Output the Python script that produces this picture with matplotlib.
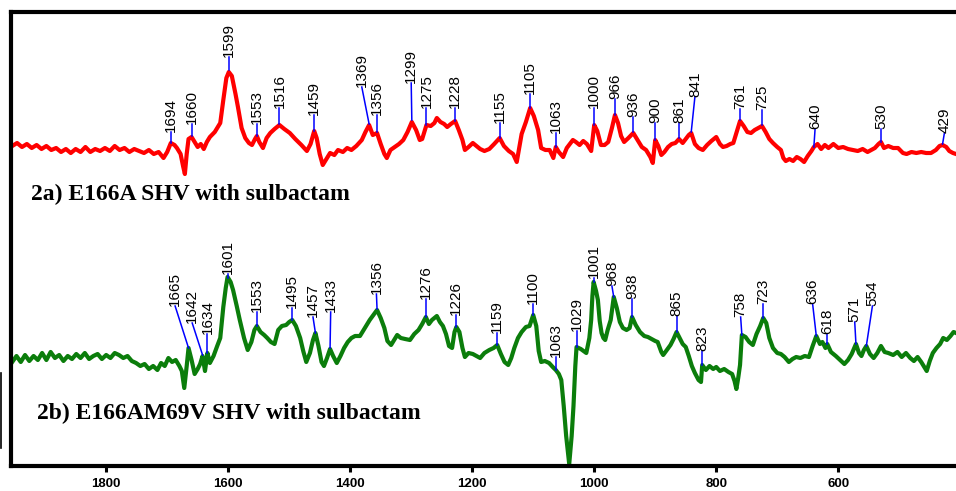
"""
Raman difference spectra: E166A SHV and E166AM69V SHV with sulbactam
"""

import matplotlib
matplotlib.use('Agg')
import matplotlib.pyplot as plt
from matplotlib.lines import Line2D

# Upper trace (2a): (wavenumber cm-1, relative intensity)
red_points = [
    (1954, 320), (1946, 323), (1938, 319), (1930, 322), (1922, 318), (1914, 321),
    (1906, 317), (1898, 320), (1890, 316), (1882, 318), (1874, 314), (1866, 317),
    (1858, 313), (1850, 317), (1842, 314), (1834, 319), (1826, 314), (1818, 317),
    (1810, 315), (1802, 318), (1794, 315), (1786, 320), (1778, 316), (1770, 318),
    (1762, 314), (1754, 317), (1746, 315), (1738, 313), (1730, 316), (1722, 312),
    (1714, 314), (1706, 308), (1700, 314), (1694, 323), (1688, 321), (1684, 318),
    (1678, 312), (1674, 300), (1671, 292), (1668, 312), (1665, 327), (1660, 329),
    (1655, 324), (1650, 319), (1645, 322), (1640, 317), (1635, 324), (1630, 329),
    (1622, 334), (1613, 343), (1608, 366), (1603, 388), (1599, 394), (1594, 390),
    (1588, 372), (1584, 359), (1578, 338), (1572, 328), (1566, 323), (1561, 321),
    (1556, 327), (1553, 330), (1549, 324), (1543, 318), (1537, 328), (1531, 333),
    (1524, 337), (1516, 341), (1508, 337), (1499, 333), (1490, 327), (1480, 321),
    (1471, 315), (1465, 322), (1459, 335), (1455, 328), (1450, 312), (1445, 301),
    (1440, 306), (1433, 313), (1426, 311), (1420, 316), (1412, 314), (1405, 318),
    (1398, 316), (1390, 320), (1381, 326), (1375, 334), (1369, 341), (1363, 331),
    (1356, 333), (1350, 322), (1344, 312), (1340, 308), (1334, 316), (1327, 319),
    (1320, 322), (1313, 326), (1306, 334), (1299, 344), (1292, 336), (1286, 326),
    (1282, 327), (1275, 341), (1268, 340), (1262, 343), (1258, 348), (1252, 344),
    (1246, 342), (1241, 339), (1235, 342), (1228, 345), (1222, 336), (1216, 326),
    (1212, 316), (1206, 319), (1199, 323), (1193, 320), (1187, 317), (1180, 315),
    (1172, 317), (1164, 322), (1155, 328), (1148, 320), (1140, 315), (1133, 312),
    (1127, 304), (1123, 318), (1119, 332), (1112, 344), (1105, 358), (1099, 350),
    (1092, 336), (1087, 318), (1080, 316), (1073, 316), (1067, 308), (1063, 319),
    (1058, 314), (1051, 309), (1045, 318), (1040, 322), (1035, 326), (1030, 324),
    (1024, 321), (1018, 325), (1012, 322), (1005, 315), (1000, 341), (995, 335),
    (989, 321), (983, 321), (977, 324), (971, 338), (966, 351), (961, 343),
    (956, 330), (951, 324), (944, 328), (936, 333), (930, 327), (922, 319),
    (915, 316), (908, 309), (904, 303), (900, 326), (895, 320), (890, 311),
    (885, 314), (879, 319), (873, 322), (867, 323), (861, 327), (855, 323),
    (850, 327), (845, 331), (841, 333), (835, 322), (829, 318), (822, 316),
    (815, 321), (808, 325), (800, 329), (794, 322), (789, 319), (783, 320),
    (777, 322), (772, 323), (766, 335), (761, 345), (755, 340), (749, 334),
    (743, 333), (737, 336), (731, 338), (725, 340), (719, 334), (713, 327),
    (707, 323), (700, 319), (694, 316), (690, 308), (686, 305), (680, 307),
    (674, 305), (668, 309), (662, 307), (656, 304), (650, 310), (644, 315),
    (640, 319), (634, 322), (628, 317), (622, 321), (616, 318), (608, 322),
    (600, 318), (592, 319), (584, 317), (576, 316), (568, 315), (560, 317),
    (552, 314), (546, 316), (540, 318), (534, 322), (530, 324), (525, 318),
    (518, 320), (510, 318), (502, 318), (494, 313), (488, 312), (480, 314),
    (472, 313), (464, 314), (456, 313), (448, 313), (440, 316), (434, 320),
    (429, 321), (423, 319), (418, 315), (412, 313), (407, 312),
]

# Lower trace (2b)
green_points = [
    (1954, 104), (1947, 110), (1940, 104), (1933, 111), (1926, 105), (1919, 110),
    (1912, 106), (1905, 113), (1898, 106), (1891, 114), (1884, 108), (1877, 111),
    (1870, 105), (1863, 110), (1856, 107), (1849, 112), (1842, 108), (1835, 113),
    (1828, 107), (1821, 110), (1814, 112), (1807, 107), (1800, 111), (1793, 108),
    (1786, 113), (1779, 111), (1772, 108), (1765, 110), (1758, 105), (1751, 103),
    (1744, 100), (1737, 102), (1730, 97), (1723, 100), (1716, 96), (1710, 103),
    (1704, 100), (1698, 108), (1692, 104), (1686, 106), (1680, 100), (1676, 95),
    (1672, 78), (1668, 100), (1665, 118), (1660, 106), (1655, 92), (1650, 97),
    (1646, 102), (1642, 110), (1638, 95), (1634, 113), (1630, 103), (1624, 110),
    (1618, 120), (1613, 128), (1608, 159), (1604, 178), (1601, 189), (1596, 184),
    (1592, 176), (1586, 160), (1581, 146), (1574, 128), (1568, 116), (1562, 124),
    (1557, 136), (1553, 140), (1547, 134), (1541, 131), (1536, 128), (1530, 124),
    (1524, 122), (1518, 136), (1512, 140), (1505, 141), (1500, 144), (1495, 146),
    (1489, 140), (1482, 128), (1477, 115), (1472, 104), (1466, 113), (1461, 126),
    (1457, 133), (1452, 120), (1447, 104), (1443, 100), (1438, 108), (1433, 117),
    (1428, 110), (1422, 103), (1416, 110), (1410, 118), (1404, 124), (1398, 128),
    (1392, 130), (1384, 130), (1376, 138), (1368, 146), (1362, 151), (1356, 156),
    (1350, 148), (1344, 138), (1339, 125), (1333, 121), (1328, 126), (1323, 131),
    (1317, 128), (1310, 127), (1302, 126), (1295, 132), (1288, 136), (1282, 142),
    (1276, 149), (1271, 142), (1266, 146), (1262, 148), (1258, 150), (1253, 144),
    (1248, 140), (1243, 132), (1238, 120), (1233, 118), (1229, 134), (1226, 139),
    (1221, 134), (1216, 118), (1212, 109), (1206, 113), (1199, 112), (1193, 110),
    (1187, 108), (1180, 113), (1172, 116), (1165, 118), (1159, 121), (1153, 112),
    (1147, 104), (1141, 101), (1136, 108), (1131, 118), (1125, 128), (1119, 134),
    (1112, 139), (1106, 140), (1100, 151), (1095, 140), (1091, 115), (1087, 104),
    (1081, 105), (1074, 103), (1068, 99), (1063, 96), (1058, 92), (1054, 86),
    (1050, 60), (1046, 30), (1041, 2), (1037, 30), (1034, 60), (1031, 100),
    (1029, 119), (1022, 117), (1013, 113), (1008, 128), (1005, 146), (1003, 170),
    (1001, 184), (997, 175), (994, 166), (991, 145), (988, 133), (985, 128),
    (982, 126), (978, 136), (973, 146), (970, 160), (968, 169), (963, 158),
    (958, 144), (953, 138), (947, 136), (942, 138), (938, 149), (932, 141),
    (925, 134), (918, 130), (912, 129), (906, 127), (900, 125), (896, 124),
    (890, 114), (887, 111), (881, 116), (875, 121), (870, 127), (865, 134),
    (860, 128), (855, 122), (850, 119), (845, 110), (840, 100), (835, 93),
    (829, 86), (825, 84), (823, 101), (817, 96), (811, 100), (805, 97),
    (800, 99), (794, 95), (787, 97), (780, 94), (774, 92), (770, 85),
    (767, 77), (764, 88), (761, 101), (758, 131), (752, 129), (746, 124),
    (740, 121), (734, 132), (728, 140), (723, 148), (718, 143), (713, 128),
    (707, 118), (700, 113), (694, 112), (688, 109), (681, 104), (675, 107),
    (669, 109), (662, 108), (655, 110), (648, 109), (642, 120), (636, 130),
    (630, 122), (626, 124), (621, 118), (618, 122), (612, 114), (604, 110),
    (597, 106), (590, 102), (584, 106), (578, 112), (571, 122), (566, 113),
    (562, 110), (558, 116), (554, 120), (548, 112), (542, 108), (536, 113),
    (530, 120), (524, 114), (518, 113), (510, 111), (503, 114), (496, 109),
    (489, 113), (482, 108), (476, 105), (470, 109), (464, 104), (458, 98),
    (455, 95), (450, 105), (445, 113), (439, 118), (433, 122), (428, 128),
    (422, 126), (416, 130), (411, 134), (407, 133),
]

# Peak labels: (label, peak x, peak y, label x, label y)
red_peaks = [
    (1694, 1694, 323, 1694, 334), (1660, 1660, 330, 1660, 342),
    (1599, 1599, 396, 1599, 409), (1553, 1553, 330, 1553, 342),
    (1516, 1516, 342, 1516, 358), (1459, 1459, 335, 1459, 351),
    (1369, 1369, 342, 1381, 379), (1356, 1356, 334, 1356, 351),
    (1299, 1299, 346, 1300, 383), (1275, 1275, 341, 1275, 358),
    (1228, 1228, 345, 1228, 358), (1155, 1155, 328, 1155, 343),
    (1105, 1105, 358, 1105, 372), (1063, 1063, 319, 1063, 333),
    (1000, 1000, 341, 1000, 358), (966, 966, 351, 966, 367),
    (936, 936, 334, 936, 349), (900, 900, 326, 900, 343),
    (861, 861, 328, 861, 343), (841, 841, 334, 835, 369),
    (761, 761, 346, 761, 357), (725, 725, 341, 725, 356),
    (640, 640, 319, 638, 337), (530, 530, 324, 530, 337),
    (429, 429, 322, 426, 333),
]
green_peaks = [
    (1665, 1665, 118, 1687, 160), (1642, 1642, 111, 1659, 143),
    (1634, 1634, 113, 1634, 132), (1601, 1601, 188, 1601, 192),
    (1553, 1553, 140, 1553, 154), (1495, 1495, 146, 1495, 158),
    (1457, 1457, 133, 1461, 149), (1433, 1433, 118, 1432, 154),
    (1356, 1356, 157, 1357, 172), (1276, 1276, 149, 1276, 167),
    (1226, 1226, 139, 1226, 151), (1159, 1159, 121, 1159, 133),
    (1100, 1100, 151, 1100, 162), (1063, 1063, 96, 1063, 109),
    (1029, 1029, 119, 1029, 135), (1001, 1001, 184, 1001, 188),
    (968, 968, 169, 971, 180), (938, 938, 149, 938, 167),
    (865, 865, 134, 865, 150), (823, 823, 101, 823, 115),
    (758, 758, 131, 760, 149), (723, 723, 148, 723, 162),
    (636, 636, 130, 642, 162), (618, 618, 122, 618, 132),
    (571, 571, 122, 573, 144), (554, 554, 120, 544, 160),
]

xticks = [1800, 1600, 1400, 1200, 1000, 800, 600]

fig = plt.figure(figsize=(9.56, 4.91), dpi=100)
ax = fig.add_axes([11 / 956, 25 / 491, 945 / 956, 454 / 491])

red_wn, red_int = zip(*red_points)
green_wn, green_int = zip(*green_points)
ax.plot(red_wn, red_int, color='#ff0000', linewidth=3, solid_joinstyle='round')
ax.plot(green_wn, green_int, color='#0b7d0b', linewidth=3, solid_joinstyle='round')

for peaks in (red_peaks, green_peaks):
    for lab, xp, yp, xt, yt in peaks:
        ax.plot([xp, xt], [yp, yt], color='#0000ff', linewidth=1.1)
        ax.text(xt, yt, str(lab), rotation=90, ha='center', va='bottom',
                fontsize=11, family='Liberation Sans')

ax.text(1923, 266, '2a) E166A SHV with sulbactam', fontsize=17, fontweight='bold',
        family='Liberation Serif', va='baseline')
ax.text(1913, 47, '2b) E166AM69V SHV with sulbactam', fontsize=17, fontweight='bold',
        family='Liberation Serif', va='baseline')

ax.set_xlim(1956, 407)
ax.set_ylim(0, 454)
ax.set_xticks(xticks)
ax.set_xticklabels([str(t) for t in xticks], fontweight='bold', fontsize=9.5,
                   family='Liberation Sans')
ax.set_yticks([])
ax.tick_params(axis='x', direction='out', length=4.5, width=2.2, pad=4)
ax.spines['right'].set_visible(False)
for side in ('left', 'top', 'bottom'):
    ax.spines[side].set_linewidth(3)

# stray mark on the left edge of the original figure
fig.add_artist(Line2D([0.001, 0.001], [1 - 373 / 491, 1 - 448 / 491],
                      color='black', linewidth=1.2))

fig.savefig('out.png', dpi=100)
